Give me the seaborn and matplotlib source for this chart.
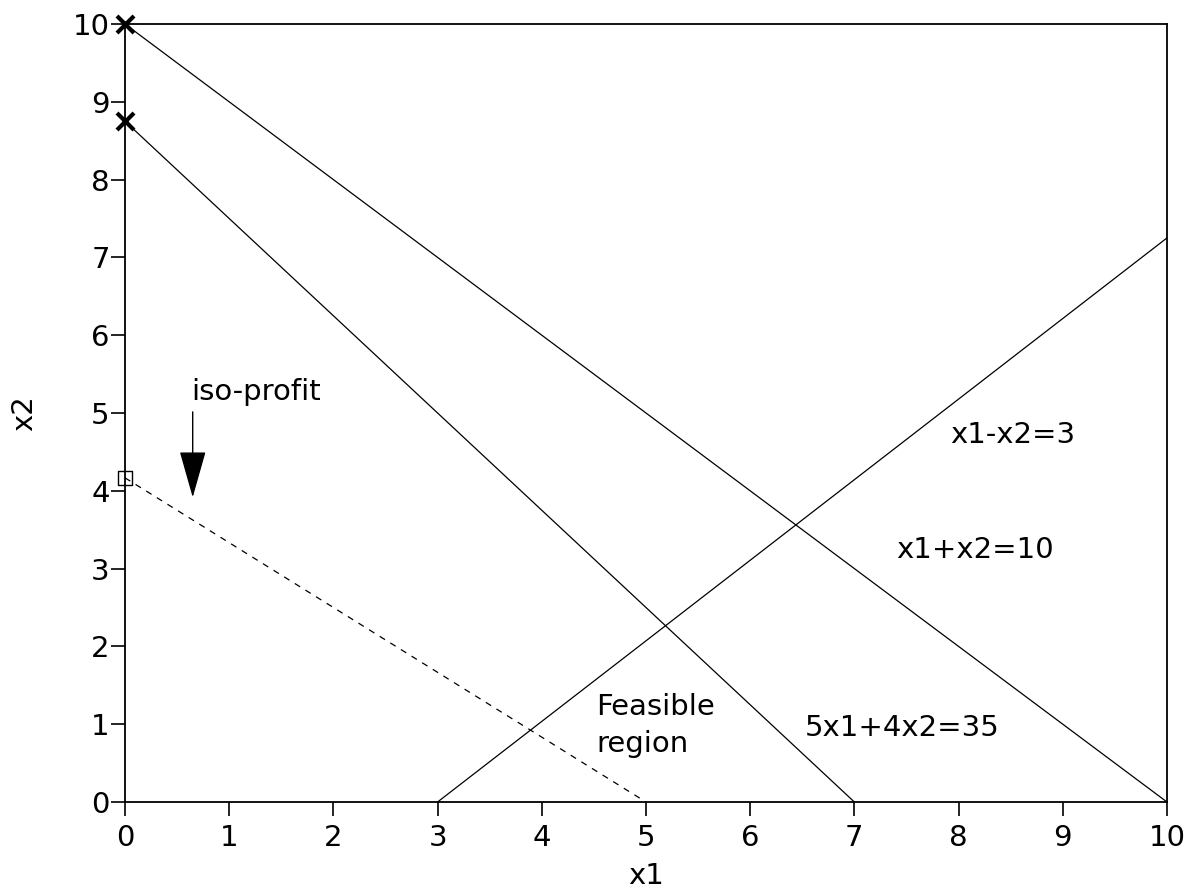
import matplotlib
matplotlib.use("Agg")
import matplotlib.pyplot as plt
import seaborn as sns
import pandas as pd

# Constraint / objective lines (endpoints)
line_names = ["x1+x2=10", "5x1+4x2=35", "x1-x2=3", "iso-profit"]
line_x = [[0, 10], [0, 7], [3, 10], [0, 5]]
line_y = [[10, 0], [8.75, 0], [0, 7.25], [4.1667, 0]]

# Marked points on the x2 axis
cross_x = [0, 0]
cross_y = [10, 8.75]
square_x = [0]
square_y = [4.1667]

# Text labels
label_text = ["x1-x2=3", "x1+x2=10", "5x1+4x2=35", "Feasible\nregion"]
label_x = [7.92, 7.4, 6.52, 4.52]
label_y = [4.72, 3.24, 0.95, 0.98]

x_ticks = list(range(0, 11))
y_ticks = list(range(0, 11))

sns.set_style("ticks")
plt.rcParams["font.family"] = ["DejaVu Sans"]
plt.rcParams["text.color"] = "black"
plt.rcParams["axes.labelcolor"] = "black"

fig = plt.figure(figsize=(11.88, 8.92), dpi=100)
ax = fig.add_axes([0.1052, 0.1009, 0.8771, 0.8722])

rows = []
for name, xs, ys in zip(line_names, line_x, line_y):
    for xv, yv in zip(xs, ys):
        rows.append({"line": name, "x1": xv, "x2": yv})
df = pd.DataFrame(rows)

for name in line_names:
    sub = df[df["line"] == name]
    if name == "iso-profit":
        sns.lineplot(data=sub, x="x1", y="x2", ax=ax, color="black", lw=0.9,
                     linestyle=(0, (5, 5)), sort=False, estimator=None)
    else:
        sns.lineplot(data=sub, x="x1", y="x2", ax=ax, color="black", lw=0.9,
                     sort=False, estimator=None)

sns.scatterplot(x=cross_x, y=cross_y, ax=ax, marker="x", s=150, color="black",
                linewidth=3, clip_on=False, zorder=5)
sns.scatterplot(x=square_x, y=square_y, ax=ax, marker="s", s=110,
                facecolor="none", edgecolor="black", linewidth=1.0,
                clip_on=False, zorder=5)

for t, xv, yv in zip(label_text, label_x, label_y):
    ax.text(xv, yv, t, fontsize=21, ha="left", va="center", linespacing=1.4)

ax.text(0.64, 5.27, "iso-profit", fontsize=21, ha="left", va="center")
ax.annotate("", xy=(0.65, 3.88), xytext=(0.65, 5.05),
            arrowprops=dict(arrowstyle="-|>,head_length=3.0,head_width=0.85",
                            color="black", lw=1.0))

ax.set_xlim(0, 10)
ax.set_ylim(0, 10)
ax.set_xticks(x_ticks)
ax.set_yticks(y_ticks)
ax.tick_params(direction="out", length=10, width=1.2, labelsize=21,
               colors="black")
ax.tick_params(axis="y", pad=1)
ax.tick_params(axis="x", pad=6)
for s in ax.spines.values():
    s.set_linewidth(1.3)
    s.set_color("black")
ax.set_xlabel("x1", fontsize=21, labelpad=7)
ax.set_ylabel("x2", fontsize=21, labelpad=25)

fig.savefig("out.png", dpi=100)
